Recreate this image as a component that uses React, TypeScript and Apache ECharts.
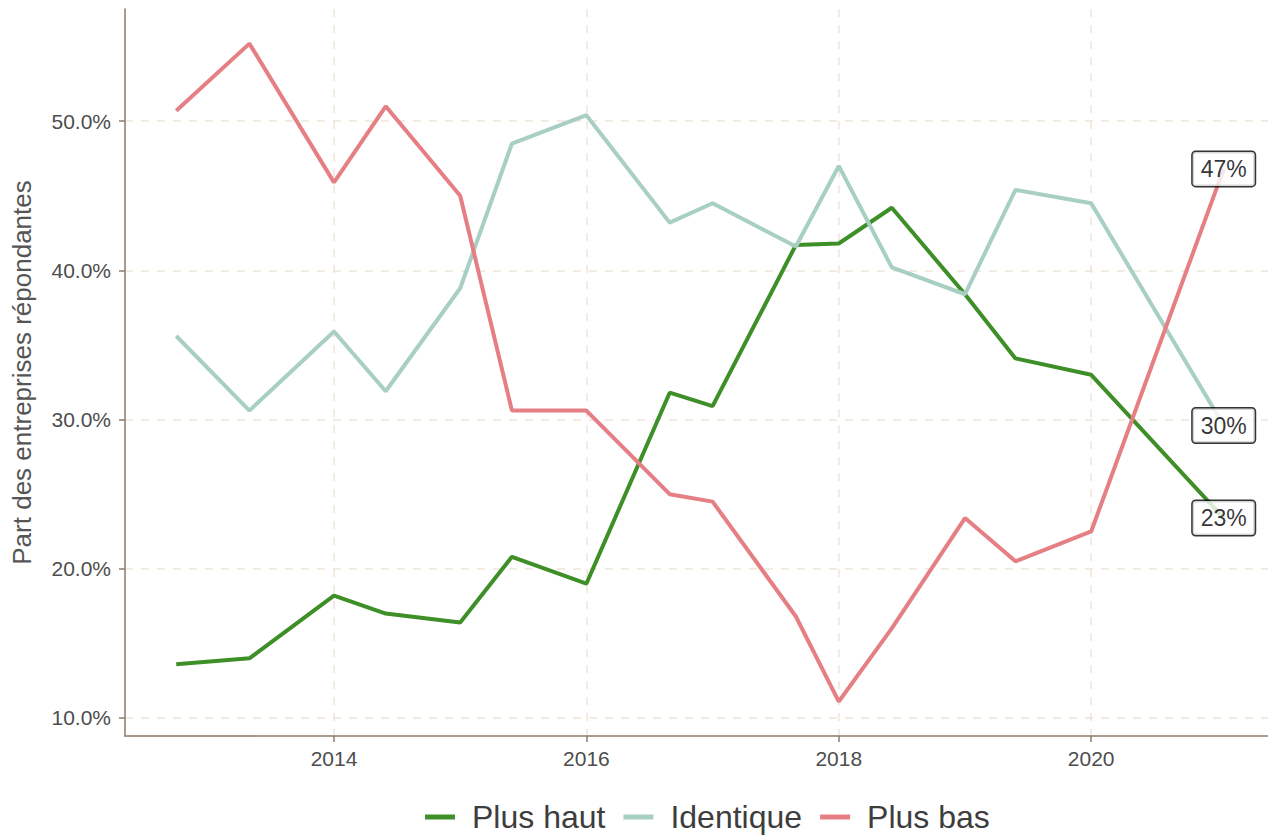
import React, { useEffect, useRef } from "react";
import * as echarts from "echarts";

const dates = [2012.75, 2013.33, 2014.0, 2014.41, 2015.0, 2015.41, 2016.0, 2016.66, 2017.0, 2017.66, 2018.0, 2018.42, 2019.0, 2019.4, 2020.0, 2021.05];
const plusHaut = [13.6, 14.0, 18.2, 17.0, 16.4, 20.8, 19.0, 31.8, 30.9, 41.7, 41.8, 44.2, 38.4, 34.1, 33.0, 23.4];
const identique = [35.6, 30.6, 35.9, 31.9, 38.8, 48.5, 50.4, 43.2, 44.5, 41.6, 47.0, 40.2, 38.4, 45.4, 44.5, 29.6];
const plusBas = [50.7, 55.2, 45.9, 51.0, 45.0, 30.6, 30.6, 25.0, 24.5, 16.8, 11.1, 16.0, 23.4, 20.5, 22.5, 46.8];
const seriesNames = ["Plus haut", "Identique", "Plus bas"];
const colors = ["#3f8f29", "#a8cfc3", "#e57f84"];
const xTicks = [2014, 2016, 2018, 2020];
const yTicks = [10, 20, 30, 40, 50];
const endLabels = ["23%", "30%", "47%"];

export default function App() {
  const ref = useRef<HTMLDivElement>(null);
  useEffect(() => {
    if (!ref.current) return;
    const chart = echarts.init(ref.current, undefined, { renderer: "svg" });
    const all = [plusHaut, identique, plusBas];
    const font = "Liberation Sans, Arial, sans-serif";
    const axisColor = "#8c7b6a";
    const gridColor = "#f0e4d8";
    const lineSeries = all.map((vals, i) => ({
      name: seriesNames[i],
      type: "line",
      data: dates.map((d, j) => [d, vals[j]]),
      showSymbol: false,
      symbol: "none",
      lineStyle: { color: colors[i], width: 4 },
      itemStyle: { color: colors[i] },
      z: 2,
    }));
    const labelSeries = {
      name: "labels",
      type: "scatter",
      silent: true,
      symbol: "circle",
      symbolSize: 2,
      itemStyle: { color: "rgba(0,0,0,0)" },
      z: 10,
      zlevel: 1,
      data: all.map((vals, i) => ({
        value: [dates[dates.length - 1], vals[vals.length - 1]],
        label: {
          show: true,
          position: "inside",
          formatter: endLabels[i],
          color: "#000",
          fontFamily: font,
          fontSize: 23,
          lineHeight: 26,
          backgroundColor: "#ffffff",
          borderColor: "#000",
          borderWidth: 1.5,
          borderRadius: 3,
          padding: [5, 8, 3, 8],
        },
      })),
    };
    chart.setOption({
      animation: false,
      grid: { left: 125, right: 0, top: 9, bottom: 100, containLabel: false, outerBoundsMode: "none" },
      legend: {
        data: seriesNames,
        left: 420,
        top: 796,
        icon: "rect",
        itemWidth: 30,
        itemHeight: 5,
        itemGap: 18,
        textStyle: { fontFamily: font, fontSize: 32, color: "#3d3d3d", padding: [0, 0, 0, 12] },
      },
      xAxis: {
        type: "value",
        min: 2012.344,
        max: 2021.401,
        axisLine: { show: true, onZero: false, lineStyle: { color: axisColor, width: 1.5 } },
        axisTick: { show: true, customValues: xTicks, length: 6, lineStyle: { color: axisColor, width: 1.5 } },
        axisLabel: {
          customValues: xTicks,
          formatter: (v: number) => String(Math.round(v)),
          fontFamily: font,
          fontSize: 21,
          color: "#4d4d4d",
          margin: 12,
        },
        splitLine: { show: true, lineStyle: { color: gridColor, type: [8, 8], width: 1.5 } },
      },
      yAxis: {
        type: "value",
        min: 8.79,
        max: 57.52,
        name: "Part des entreprises répondantes",
        nameLocation: "middle",
        nameGap: 90,
        nameTextStyle: { fontFamily: font, fontSize: 26, color: "#555555" },
        axisLine: { show: true, onZero: false, lineStyle: { color: axisColor, width: 1.5 } },
        axisTick: { show: true, customValues: yTicks, length: 6, lineStyle: { color: axisColor, width: 1.5 } },
        axisLabel: {
          customValues: yTicks,
          formatter: (v: number) => v.toFixed(1) + "%",
          fontFamily: font,
          fontSize: 21,
          color: "#4d4d4d",
          margin: 14,
        },
        splitLine: { show: true, lineStyle: { color: gridColor, type: [8, 8], width: 1.5 } },
      },
      series: [...lineSeries, labelSeries],
    });
    return () => chart.dispose();
  }, []);
  return (
    <div
      ref={ref}
      style={{ position: "fixed", left: 0, top: 0, width: 1268, height: 836, background: "#fff" }}
    />
  );
}
